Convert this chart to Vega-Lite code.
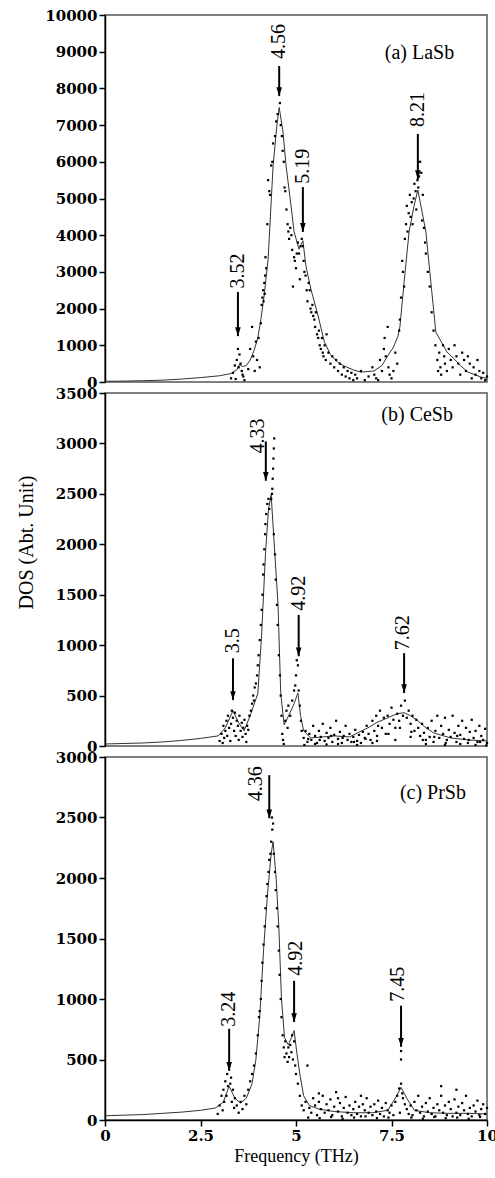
{
  "$schema": "https://vega.github.io/schema/vega-lite/v6.json",
  "background": "white",
  "padding": {"left": 15, "top": 7, "right": 4, "bottom": 4},
  "spacing": 11,
  "bounds": "flush",
  "datasets": {
    "lineA": [{"f":0,"dos":20},{"f":0.5,"dos":25},{"f":1.0,"dos":35},{"f":1.5,"dos":50},{"f":2.0,"dos":80},{"f":2.5,"dos":120},{"f":3.0,"dos":170},{"f":3.3,"dos":230},{"f":3.45,"dos":330},{"f":3.52,"dos":480},{"f":3.6,"dos":420},{"f":3.7,"dos":450},{"f":3.8,"dos":600},{"f":3.9,"dos":850},{"f":4.0,"dos":1200},{"f":4.08,"dos":1700},{"f":4.16,"dos":2300},{"f":4.27,"dos":3350},{"f":4.4,"dos":5890},{"f":4.5,"dos":7000},{"f":4.56,"dos":7480},{"f":4.66,"dos":6810},{"f":4.74,"dos":5890},{"f":4.87,"dos":4800},{"f":4.95,"dos":4090},{"f":5.08,"dos":3620},{"f":5.18,"dos":3850},{"f":5.26,"dos":3160},{"f":5.39,"dos":2530},{"f":5.58,"dos":1800},{"f":5.74,"dos":1100},{"f":5.9,"dos":750},{"f":6.1,"dos":530},{"f":6.26,"dos":436},{"f":6.5,"dos":330},{"f":6.7,"dos":270},{"f":7.04,"dos":300},{"f":7.25,"dos":450},{"f":7.4,"dos":710},{"f":7.55,"dos":950},{"f":7.67,"dos":1250},{"f":7.72,"dos":1500},{"f":7.83,"dos":2720},{"f":7.96,"dos":4090},{"f":8.09,"dos":4800},{"f":8.19,"dos":5230},{"f":8.27,"dos":4800},{"f":8.4,"dos":4090},{"f":8.53,"dos":2720},{"f":8.66,"dos":1360},{"f":8.8,"dos":1100},{"f":8.95,"dos":820},{"f":9.14,"dos":630},{"f":9.3,"dos":450},{"f":9.5,"dos":270},{"f":9.84,"dos":136},{"f":10,"dos":100}],
    "ptsA": [{"f":3.3,"dos":100},{"f":3.35,"dos":250},{"f":3.4,"dos":450},{"f":3.45,"dos":600},{"f":3.48,"dos":900},{"f":3.52,"dos":750},{"f":3.55,"dos":500},{"f":3.58,"dos":300},{"f":3.62,"dos":150},{"f":3.65,"dos":50},{"f":3.42,"dos":80},{"f":3.5,"dos":400},{"f":3.6,"dos":200},{"f":3.75,"dos":350},{"f":3.8,"dos":900},{"f":3.85,"dos":1500},{"f":3.88,"dos":700},{"f":3.92,"dos":300},{"f":3.95,"dos":1100},{"f":3.98,"dos":600},{"f":4.02,"dos":1200},{"f":4.05,"dos":400},{"f":4.08,"dos":1600},{"f":4.1,"dos":2100},{"f":4.12,"dos":2300},{"f":4.14,"dos":2500},{"f":4.15,"dos":2200},{"f":4.17,"dos":2700},{"f":4.18,"dos":2400},{"f":4.19,"dos":2900},{"f":4.2,"dos":3400},{"f":4.22,"dos":3100},{"f":4.25,"dos":4300},{"f":4.27,"dos":5500},{"f":4.3,"dos":5200},{"f":4.32,"dos":5100},{"f":4.35,"dos":5900},{"f":4.38,"dos":6000},{"f":4.4,"dos":6500},{"f":4.45,"dos":6700},{"f":4.48,"dos":7100},{"f":4.52,"dos":7300},{"f":4.55,"dos":8000},{"f":4.58,"dos":7600},{"f":4.6,"dos":7000},{"f":4.63,"dos":6700},{"f":4.65,"dos":6300},{"f":4.68,"dos":6000},{"f":4.7,"dos":5300},{"f":4.72,"dos":5200},{"f":4.75,"dos":4700},{"f":4.78,"dos":4300},{"f":4.8,"dos":4100},{"f":4.82,"dos":3900},{"f":4.85,"dos":4200},{"f":4.88,"dos":4000},{"f":4.9,"dos":3600},{"f":4.92,"dos":2600},{"f":4.95,"dos":3400},{"f":4.97,"dos":3300},{"f":5.0,"dos":3100},{"f":5.02,"dos":3500},{"f":5.05,"dos":3800},{"f":5.08,"dos":3500},{"f":5.1,"dos":2800},{"f":5.12,"dos":3700},{"f":5.15,"dos":3900},{"f":5.18,"dos":3700},{"f":5.2,"dos":3300},{"f":5.22,"dos":3000},{"f":5.25,"dos":2900},{"f":5.28,"dos":2500},{"f":5.3,"dos":2200},{"f":5.33,"dos":2700},{"f":5.36,"dos":2500},{"f":5.38,"dos":2000},{"f":5.4,"dos":1900},{"f":5.43,"dos":2100},{"f":5.45,"dos":1800},{"f":5.48,"dos":1700},{"f":5.5,"dos":1500},{"f":5.52,"dos":1900},{"f":5.55,"dos":1300},{"f":5.58,"dos":1200},{"f":5.6,"dos":1400},{"f":5.62,"dos":1000},{"f":5.65,"dos":900},{"f":5.68,"dos":1200},{"f":5.7,"dos":800},{"f":5.72,"dos":700},{"f":5.75,"dos":1000},{"f":5.78,"dos":600},{"f":5.8,"dos":1300},{"f":5.85,"dos":800},{"f":5.9,"dos":500},{"f":5.95,"dos":700},{"f":6.0,"dos":400},{"f":6.05,"dos":600},{"f":6.1,"dos":300},{"f":6.15,"dos":500},{"f":6.2,"dos":200},{"f":6.25,"dos":400},{"f":6.3,"dos":150},{"f":6.35,"dos":300},{"f":6.4,"dos":100},{"f":6.45,"dos":250},{"f":6.5,"dos":50},{"f":6.55,"dos":200},{"f":6.6,"dos":100},{"f":6.7,"dos":300},{"f":6.8,"dos":50},{"f":6.9,"dos":150},{"f":7.0,"dos":400},{"f":7.05,"dos":200},{"f":7.1,"dos":100},{"f":7.15,"dos":50},{"f":7.2,"dos":600},{"f":7.25,"dos":300},{"f":7.3,"dos":900},{"f":7.32,"dos":1200},{"f":7.35,"dos":700},{"f":7.4,"dos":1500},{"f":7.42,"dos":400},{"f":7.45,"dos":200},{"f":7.5,"dos":100},{"f":7.55,"dos":300},{"f":7.6,"dos":800},{"f":7.65,"dos":500},{"f":7.7,"dos":1400},{"f":7.72,"dos":1700},{"f":7.75,"dos":2300},{"f":7.78,"dos":3300},{"f":7.8,"dos":3000},{"f":7.83,"dos":2600},{"f":7.85,"dos":3900},{"f":7.88,"dos":4300},{"f":7.9,"dos":4800},{"f":7.92,"dos":4100},{"f":7.95,"dos":4600},{"f":7.98,"dos":5100},{"f":8.0,"dos":4500},{"f":8.03,"dos":4900},{"f":8.05,"dos":4300},{"f":8.08,"dos":5000},{"f":8.1,"dos":5400},{"f":8.13,"dos":5200},{"f":8.15,"dos":4700},{"f":8.18,"dos":5500},{"f":8.2,"dos":5300},{"f":8.22,"dos":5600},{"f":8.25,"dos":6000},{"f":8.28,"dos":5700},{"f":8.3,"dos":4400},{"f":8.32,"dos":5100},{"f":8.35,"dos":4200},{"f":8.38,"dos":3800},{"f":8.4,"dos":3500},{"f":8.45,"dos":3000},{"f":8.5,"dos":2600},{"f":8.55,"dos":1900},{"f":8.6,"dos":1400},{"f":8.65,"dos":1000},{"f":8.7,"dos":600},{"f":8.72,"dos":300},{"f":8.75,"dos":800},{"f":8.78,"dos":400},{"f":8.8,"dos":200},{"f":8.85,"dos":1000},{"f":8.88,"dos":700},{"f":8.9,"dos":500},{"f":8.95,"dos":300},{"f":9.0,"dos":900},{"f":9.05,"dos":600},{"f":9.1,"dos":400},{"f":9.15,"dos":1000},{"f":9.2,"dos":700},{"f":9.25,"dos":500},{"f":9.3,"dos":200},{"f":9.35,"dos":800},{"f":9.4,"dos":600},{"f":9.45,"dos":300},{"f":9.5,"dos":700},{"f":9.55,"dos":500},{"f":9.6,"dos":100},{"f":9.65,"dos":400},{"f":9.7,"dos":200},{"f":9.75,"dos":600},{"f":9.8,"dos":300},{"f":9.85,"dos":100},{"f":9.9,"dos":250},{"f":9.95,"dos":50},{"f":10.0,"dos":150}],
    "annA": [{"f":3.48,"dos":2450,"tip":1250,"tf":3.48,"tv":2550,"label":"3.52"},{"f":4.56,"dos":8610,"tip":7790,"tf":4.56,"tv":8800,"label":"4.56"},{"f":5.18,"dos":5310,"tip":4090,"tf":5.18,"tv":5400,"label":"5.19"},{"f":8.19,"dos":6760,"tip":5530,"tf":8.19,"tv":6950,"label":"8.21"}],
    "lineB": [{"f":0,"dos":20},{"f":0.5,"dos":25},{"f":1.0,"dos":30},{"f":1.5,"dos":40},{"f":2.0,"dos":55},{"f":2.5,"dos":75},{"f":2.96,"dos":100},{"f":3.15,"dos":180},{"f":3.35,"dos":350},{"f":3.5,"dos":230},{"f":3.64,"dos":150},{"f":3.8,"dos":300},{"f":4.0,"dos":520},{"f":4.1,"dos":1100},{"f":4.2,"dos":1900},{"f":4.28,"dos":2350},{"f":4.35,"dos":2490},{"f":4.42,"dos":2060},{"f":4.53,"dos":1400},{"f":4.6,"dos":520},{"f":4.69,"dos":210},{"f":4.82,"dos":310},{"f":4.95,"dos":420},{"f":5.05,"dos":525},{"f":5.12,"dos":300},{"f":5.2,"dos":150},{"f":5.39,"dos":80},{"f":5.7,"dos":90},{"f":6.0,"dos":100},{"f":6.4,"dos":90},{"f":6.88,"dos":180},{"f":7.1,"dos":230},{"f":7.4,"dos":280},{"f":7.65,"dos":320},{"f":7.83,"dos":330},{"f":8.0,"dos":300},{"f":8.19,"dos":250},{"f":8.4,"dos":180},{"f":8.6,"dos":130},{"f":9.05,"dos":80},{"f":9.5,"dos":60},{"f":10,"dos":50}],
    "ptsB": [{"f":3.0,"dos":50},{"f":3.05,"dos":120},{"f":3.08,"dos":30},{"f":3.1,"dos":200},{"f":3.12,"dos":80},{"f":3.15,"dos":150},{"f":3.18,"dos":250},{"f":3.2,"dos":100},{"f":3.22,"dos":300},{"f":3.25,"dos":180},{"f":3.28,"dos":50},{"f":3.3,"dos":220},{"f":3.32,"dos":350},{"f":3.35,"dos":280},{"f":3.38,"dos":150},{"f":3.4,"dos":330},{"f":3.42,"dos":100},{"f":3.45,"dos":250},{"f":3.48,"dos":200},{"f":3.5,"dos":60},{"f":3.52,"dos":300},{"f":3.55,"dos":150},{"f":3.58,"dos":230},{"f":3.6,"dos":90},{"f":3.62,"dos":180},{"f":3.65,"dos":260},{"f":3.68,"dos":120},{"f":3.7,"dos":40},{"f":3.72,"dos":200},{"f":3.75,"dos":160},{"f":3.78,"dos":300},{"f":3.82,"dos":350},{"f":3.85,"dos":420},{"f":3.88,"dos":500},{"f":3.9,"dos":450},{"f":3.92,"dos":580},{"f":3.95,"dos":620},{"f":3.98,"dos":700},{"f":4.0,"dos":800},{"f":4.02,"dos":900},{"f":4.05,"dos":1050},{"f":4.08,"dos":1200},{"f":4.1,"dos":1350},{"f":4.12,"dos":1500},{"f":4.14,"dos":1700},{"f":4.15,"dos":1800},{"f":4.17,"dos":1950},{"f":4.19,"dos":2100},{"f":4.2,"dos":2200},{"f":4.22,"dos":2300},{"f":4.25,"dos":2400},{"f":4.28,"dos":2450},{"f":4.3,"dos":2350},{"f":4.37,"dos":2500},{"f":4.38,"dos":2550},{"f":4.39,"dos":2650},{"f":4.4,"dos":2750},{"f":4.41,"dos":2850},{"f":4.42,"dos":2950},{"f":4.43,"dos":3050},{"f":4.35,"dos":2450},{"f":4.42,"dos":2100},{"f":4.45,"dos":1900},{"f":4.47,"dos":1650},{"f":4.5,"dos":1400},{"f":4.52,"dos":1200},{"f":4.55,"dos":900},{"f":4.58,"dos":700},{"f":4.6,"dos":500},{"f":4.62,"dos":300},{"f":4.64,"dos":120},{"f":4.66,"dos":60},{"f":4.68,"dos":20},{"f":4.72,"dos":250},{"f":4.75,"dos":350},{"f":4.78,"dos":180},{"f":4.8,"dos":400},{"f":4.85,"dos":300},{"f":4.9,"dos":450},{"f":4.95,"dos":550},{"f":4.98,"dos":600},{"f":5.0,"dos":700},{"f":5.02,"dos":850},{"f":5.05,"dos":800},{"f":5.07,"dos":550},{"f":5.1,"dos":400},{"f":5.13,"dos":250},{"f":5.15,"dos":150},{"f":5.2,"dos":80},{"f":5.25,"dos":150},{"f":5.3,"dos":40},{"f":5.35,"dos":120},{"f":5.4,"dos":60},{"f":5.45,"dos":200},{"f":5.5,"dos":100},{"f":5.55,"dos":30},{"f":5.6,"dos":150},{"f":5.65,"dos":90},{"f":5.7,"dos":220},{"f":5.75,"dos":50},{"f":5.8,"dos":130},{"f":5.85,"dos":80},{"f":5.9,"dos":180},{"f":5.95,"dos":40},{"f":6.0,"dos":110},{"f":6.05,"dos":250},{"f":6.1,"dos":70},{"f":6.15,"dos":140},{"f":6.2,"dos":30},{"f":6.25,"dos":100},{"f":6.3,"dos":200},{"f":6.35,"dos":60},{"f":6.4,"dos":120},{"f":6.45,"dos":40},{"f":6.5,"dos":90},{"f":6.55,"dos":160},{"f":6.6,"dos":50},{"f":6.65,"dos":110},{"f":6.7,"dos":30},{"f":6.75,"dos":140},{"f":6.8,"dos":80},{"f":6.85,"dos":200},{"f":6.9,"dos":120},{"f":6.95,"dos":60},{"f":7.0,"dos":250},{"f":7.05,"dos":150},{"f":7.1,"dos":300},{"f":7.12,"dos":100},{"f":7.15,"dos":200},{"f":7.2,"dos":350},{"f":7.25,"dos":180},{"f":7.3,"dos":280},{"f":7.35,"dos":120},{"f":7.4,"dos":300},{"f":7.45,"dos":220},{"f":7.5,"dos":380},{"f":7.55,"dos":260},{"f":7.6,"dos":180},{"f":7.65,"dos":320},{"f":7.7,"dos":250},{"f":7.75,"dos":400},{"f":7.8,"dos":300},{"f":7.85,"dos":450},{"f":7.9,"dos":280},{"f":7.95,"dos":350},{"f":8.0,"dos":220},{"f":8.05,"dos":300},{"f":8.1,"dos":150},{"f":8.15,"dos":260},{"f":8.2,"dos":180},{"f":8.25,"dos":100},{"f":8.3,"dos":220},{"f":8.35,"dos":130},{"f":8.4,"dos":60},{"f":8.45,"dos":180},{"f":8.5,"dos":90},{"f":8.55,"dos":250},{"f":8.6,"dos":40},{"f":8.65,"dos":150},{"f":8.7,"dos":300},{"f":8.75,"dos":80},{"f":8.8,"dos":200},{"f":8.85,"dos":120},{"f":8.9,"dos":280},{"f":8.95,"dos":60},{"f":9.0,"dos":160},{"f":9.05,"dos":90},{"f":9.1,"dos":300},{"f":9.15,"dos":130},{"f":9.2,"dos":40},{"f":9.25,"dos":200},{"f":9.3,"dos":110},{"f":9.35,"dos":250},{"f":9.4,"dos":70},{"f":9.45,"dos":180},{"f":9.5,"dos":30},{"f":9.55,"dos":140},{"f":9.6,"dos":260},{"f":9.65,"dos":80},{"f":9.7,"dos":150},{"f":9.75,"dos":40},{"f":9.8,"dos":200},{"f":9.85,"dos":100},{"f":9.9,"dos":60},{"f":9.95,"dos":170},{"f":10.0,"dos":30},{"f":5.22,"dos":10},{"f":5.5,"dos":20},{"f":5.8,"dos":15},{"f":6.1,"dos":20},{"f":6.6,"dos":10},{"f":7.0,"dos":30},{"f":7.6,"dos":60},{"f":8.0,"dos":90},{"f":8.4,"dos":20},{"f":8.9,"dos":10},{"f":9.3,"dos":20},{"f":9.7,"dos":10},{"f":9.98,"dos":5},{"f":5.32,"dos":70},{"f":5.62,"dos":60},{"f":5.92,"dos":100},{"f":6.22,"dos":80},{"f":6.52,"dos":40},{"f":6.82,"dos":70},{"f":7.12,"dos":50},{"f":7.42,"dos":120},{"f":7.72,"dos":180},{"f":8.02,"dos":140},{"f":8.32,"dos":60},{"f":8.62,"dos":90},{"f":8.92,"dos":30},{"f":9.22,"dos":100},{"f":9.52,"dos":60},{"f":9.82,"dos":40}],
    "annB": [{"f":3.35,"dos":870,"tip":455,"tf":3.35,"tv":920,"label":"3.5"},{"f":4.21,"dos":3020,"tip":2630,"tf":4.0,"tv":2900,"label":"4.33"},{"f":5.07,"dos":1300,"tip":890,"tf":5.07,"tv":1340,"label":"4.92"},{"f":7.83,"dos":920,"tip":525,"tf":7.8,"tv":950,"label":"7.62"}],
    "lineC": [{"f":0,"dos":35},{"f":0.5,"dos":40},{"f":1.0,"dos":45},{"f":1.5,"dos":55},{"f":2.0,"dos":65},{"f":2.5,"dos":80},{"f":2.9,"dos":100},{"f":3.1,"dos":150},{"f":3.25,"dos":280},{"f":3.4,"dos":180},{"f":3.55,"dos":140},{"f":3.7,"dos":180},{"f":3.85,"dos":300},{"f":3.95,"dos":500},{"f":4.05,"dos":850},{"f":4.15,"dos":1400},{"f":4.25,"dos":1850},{"f":4.35,"dos":2200},{"f":4.4,"dos":2300},{"f":4.48,"dos":2000},{"f":4.55,"dos":1600},{"f":4.62,"dos":1000},{"f":4.7,"dos":680},{"f":4.8,"dos":620},{"f":4.88,"dos":680},{"f":4.95,"dos":740},{"f":5.02,"dos":560},{"f":5.1,"dos":380},{"f":5.2,"dos":200},{"f":5.35,"dos":120},{"f":5.6,"dos":90},{"f":6.0,"dos":70},{"f":6.5,"dos":60},{"f":7.0,"dos":60},{"f":7.4,"dos":80},{"f":7.6,"dos":180},{"f":7.75,"dos":270},{"f":7.9,"dos":180},{"f":8.1,"dos":80},{"f":8.5,"dos":60},{"f":9.0,"dos":55},{"f":9.5,"dos":55},{"f":10,"dos":50}],
    "ptsC": [{"f":2.95,"dos":50},{"f":3.0,"dos":120},{"f":3.05,"dos":200},{"f":3.08,"dos":80},{"f":3.1,"dos":250},{"f":3.12,"dos":150},{"f":3.15,"dos":320},{"f":3.18,"dos":200},{"f":3.2,"dos":380},{"f":3.22,"dos":280},{"f":3.25,"dos":450},{"f":3.28,"dos":300},{"f":3.3,"dos":350},{"f":3.32,"dos":150},{"f":3.35,"dos":250},{"f":3.38,"dos":100},{"f":3.4,"dos":180},{"f":3.45,"dos":120},{"f":3.5,"dos":60},{"f":3.55,"dos":150},{"f":3.6,"dos":90},{"f":3.65,"dos":200},{"f":3.7,"dos":130},{"f":3.75,"dos":250},{"f":3.8,"dos":320},{"f":3.85,"dos":380},{"f":3.9,"dos":450},{"f":3.95,"dos":550},{"f":4.0,"dos":700},{"f":4.03,"dos":850},{"f":4.05,"dos":900},{"f":4.08,"dos":1000},{"f":4.1,"dos":1150},{"f":4.12,"dos":1300},{"f":4.15,"dos":1450},{"f":4.18,"dos":1600},{"f":4.2,"dos":1750},{"f":4.23,"dos":1850},{"f":4.25,"dos":1950},{"f":4.28,"dos":2050},{"f":4.3,"dos":2150},{"f":4.33,"dos":2200},{"f":4.35,"dos":2300},{"f":4.38,"dos":2400},{"f":4.4,"dos":2450},{"f":4.37,"dos":2500},{"f":4.42,"dos":2200},{"f":4.45,"dos":2050},{"f":4.47,"dos":1900},{"f":4.5,"dos":1750},{"f":4.52,"dos":1600},{"f":4.55,"dos":1400},{"f":4.57,"dos":1200},{"f":4.6,"dos":1000},{"f":4.62,"dos":850},{"f":4.65,"dos":700},{"f":4.68,"dos":600},{"f":4.7,"dos":520},{"f":4.72,"dos":650},{"f":4.75,"dos":550},{"f":4.78,"dos":480},{"f":4.8,"dos":600},{"f":4.82,"dos":520},{"f":4.85,"dos":620},{"f":4.88,"dos":560},{"f":4.9,"dos":700},{"f":4.92,"dos":500},{"f":4.95,"dos":650},{"f":4.98,"dos":450},{"f":5.0,"dos":380},{"f":5.05,"dos":300},{"f":5.1,"dos":200},{"f":5.15,"dos":120},{"f":5.2,"dos":80},{"f":5.3,"dos":450},{"f":5.25,"dos":150},{"f":5.35,"dos":100},{"f":5.4,"dos":60},{"f":5.45,"dos":180},{"f":5.5,"dos":120},{"f":5.55,"dos":40},{"f":5.6,"dos":150},{"f":5.65,"dos":90},{"f":5.7,"dos":200},{"f":5.75,"dos":60},{"f":5.8,"dos":130},{"f":5.85,"dos":80},{"f":5.9,"dos":170},{"f":5.95,"dos":40},{"f":6.0,"dos":110},{"f":6.05,"dos":230},{"f":6.1,"dos":70},{"f":6.15,"dos":140},{"f":6.2,"dos":30},{"f":6.25,"dos":100},{"f":6.3,"dos":190},{"f":6.35,"dos":60},{"f":6.4,"dos":120},{"f":6.45,"dos":40},{"f":6.5,"dos":90},{"f":6.55,"dos":150},{"f":6.6,"dos":50},{"f":6.65,"dos":110},{"f":6.7,"dos":30},{"f":6.75,"dos":130},{"f":6.8,"dos":80},{"f":6.85,"dos":180},{"f":6.9,"dos":60},{"f":6.95,"dos":110},{"f":7.0,"dos":40},{"f":7.05,"dos":130},{"f":7.1,"dos":70},{"f":7.15,"dos":160},{"f":7.2,"dos":50},{"f":7.25,"dos":100},{"f":7.3,"dos":30},{"f":7.35,"dos":140},{"f":7.4,"dos":80},{"f":7.45,"dos":60},{"f":7.5,"dos":120},{"f":7.55,"dos":40},{"f":7.6,"dos":150},{"f":7.65,"dos":200},{"f":7.7,"dos":260},{"f":7.75,"dos":300},{"f":7.78,"dos":220},{"f":7.8,"dos":180},{"f":7.85,"dos":130},{"f":7.9,"dos":90},{"f":7.95,"dos":50},{"f":8.0,"dos":120},{"f":8.05,"dos":40},{"f":8.1,"dos":150},{"f":8.15,"dos":80},{"f":8.2,"dos":200},{"f":8.25,"dos":60},{"f":8.3,"dos":110},{"f":8.35,"dos":30},{"f":8.4,"dos":140},{"f":8.45,"dos":70},{"f":8.5,"dos":180},{"f":8.55,"dos":50},{"f":8.6,"dos":100},{"f":8.65,"dos":30},{"f":8.7,"dos":130},{"f":8.75,"dos":80},{"f":8.8,"dos":200},{"f":8.85,"dos":60},{"f":8.9,"dos":120},{"f":8.95,"dos":40},{"f":9.0,"dos":150},{"f":9.05,"dos":90},{"f":9.1,"dos":30},{"f":9.15,"dos":170},{"f":9.2,"dos":60},{"f":9.25,"dos":110},{"f":9.3,"dos":40},{"f":9.35,"dos":140},{"f":9.4,"dos":80},{"f":9.45,"dos":200},{"f":9.5,"dos":50},{"f":9.55,"dos":100},{"f":9.6,"dos":30},{"f":9.65,"dos":120},{"f":9.7,"dos":70},{"f":9.75,"dos":160},{"f":9.8,"dos":40},{"f":9.85,"dos":90},{"f":9.9,"dos":130},{"f":9.95,"dos":50},{"f":10.0,"dos":100},{"f":7.75,"dos":500},{"f":7.75,"dos":570},{"f":5.6,"dos":220},{"f":6.1,"dos":180},{"f":6.7,"dos":200},{"f":8.8,"dos":280},{"f":9.2,"dos":250},{"f":5.32,"dos":20},{"f":5.62,"dos":15},{"f":5.92,"dos":25},{"f":6.22,"dos":10},{"f":6.52,"dos":20},{"f":6.82,"dos":30},{"f":7.12,"dos":15},{"f":7.42,"dos":20},{"f":7.72,"dos":60},{"f":8.02,"dos":20},{"f":8.32,"dos":10},{"f":8.62,"dos":25},{"f":8.92,"dos":15},{"f":9.22,"dos":20},{"f":9.52,"dos":10},{"f":9.82,"dos":25}],
    "annC": [{"f":3.25,"dos":754,"tip":406,"tf":3.25,"tv":770,"label":"3.24"},{"f":4.3,"dos":2850,"tip":2494,"tf":3.95,"tv":2635,"label":"4.36"},{"f":4.95,"dos":1150,"tip":810,"tf":5.0,"tv":1193,"label":"4.92"},{"f":7.75,"dos":945,"tip":605,"tf":7.67,"tv":978,"label":"7.45"}]
  },
  "vconcat": [
    {
      "width": 382, "height": 367,
      "layer": [
        {"data": {"name": "lineA"}, "mark": {"type": "line", "color": "#333", "strokeWidth": 1},
         "encoding": {"x": {"field": "f", "type": "quantitative", "scale": {"domain": [0, 10], "nice": false, "zero": false}, "axis": null},
                      "y": {"field": "dos", "type": "quantitative", "scale": {"domain": [0, 10000], "nice": false}, "axis": {"title": null, "values": [0,1000,2000,3000,4000,5000,6000,7000,8000,9000,10000], "tickCount": 12, "labelOverlap": false, "format": "d"}}}},
        {"data": {"name": "ptsA"}, "mark": {"type": "point", "shape": "square", "size": 5, "filled": true, "color": "black", "opacity": 1},
         "encoding": {"x": {"field": "f", "type": "quantitative"}, "y": {"field": "dos", "type": "quantitative"}}},
        {"data": {"name": "annA"}, "mark": {"type": "rule", "color": "black", "strokeWidth": 2},
         "encoding": {"x": {"field": "f", "type": "quantitative"}, "y": {"field": "dos", "type": "quantitative"}, "y2": {"field": "tip"}}},
        {"data": {"name": "annA"}, "mark": {"type": "point", "shape": "M-0.7,-2.2L0.7,-2.2L0,0Z", "size": 64, "filled": true, "color": "black", "opacity": 1},
         "encoding": {"x": {"field": "f", "type": "quantitative"}, "y": {"field": "tip", "type": "quantitative"}}},
        {"data": {"name": "annA"}, "mark": {"type": "text", "angle": 270, "align": "left", "baseline": "middle", "font": "Liberation Serif", "fontSize": 20, "color": "black"},
         "encoding": {"x": {"field": "tf", "type": "quantitative"}, "y": {"field": "tv", "type": "quantitative"}, "text": {"field": "label"}}},
        {"data": {"values": [{"f": 9.14, "dos": 8960, "label": "(a) LaSb"}]}, "mark": {"type": "text", "align": "right", "baseline": "middle", "font": "Liberation Serif", "fontSize": 20, "color": "black"},
         "encoding": {"x": {"field": "f", "type": "quantitative"}, "y": {"field": "dos", "type": "quantitative"}, "text": {"field": "label"}}}
      ]
    },
    {
      "width": 382, "height": 353,
      "layer": [
        {"data": {"name": "lineB"}, "mark": {"type": "line", "color": "#333", "strokeWidth": 1},
         "encoding": {"x": {"field": "f", "type": "quantitative", "scale": {"domain": [0, 10], "nice": false, "zero": false}, "axis": null},
                      "y": {"field": "dos", "type": "quantitative", "scale": {"domain": [0, 3500], "nice": false}, "axis": {"title": "DOS (Abt. Unit)", "values": [0,500,1000,1500,2000,2500,3000,3500], "tickCount": 10, "labelOverlap": false, "format": "d", "titleX": -79, "titleY": 149, "titleBaseline": "middle", "titleAngle": 270}}}},
        {"data": {"name": "ptsB"}, "mark": {"type": "point", "shape": "square", "size": 5, "filled": true, "color": "black", "opacity": 1},
         "encoding": {"x": {"field": "f", "type": "quantitative"}, "y": {"field": "dos", "type": "quantitative"}}},
        {"data": {"name": "annB"}, "mark": {"type": "rule", "color": "black", "strokeWidth": 2},
         "encoding": {"x": {"field": "f", "type": "quantitative"}, "y": {"field": "dos", "type": "quantitative"}, "y2": {"field": "tip"}}},
        {"data": {"name": "annB"}, "mark": {"type": "point", "shape": "M-0.7,-2.2L0.7,-2.2L0,0Z", "size": 64, "filled": true, "color": "black", "opacity": 1},
         "encoding": {"x": {"field": "f", "type": "quantitative"}, "y": {"field": "tip", "type": "quantitative"}}},
        {"data": {"name": "annB"}, "mark": {"type": "text", "angle": 270, "align": "left", "baseline": "middle", "font": "Liberation Serif", "fontSize": 20, "color": "black"},
         "encoding": {"x": {"field": "tf", "type": "quantitative"}, "y": {"field": "tv", "type": "quantitative"}, "text": {"field": "label"}}},
        {"data": {"values": [{"f": 9.11, "dos": 3280, "label": "(b) CeSb"}]}, "mark": {"type": "text", "align": "right", "baseline": "middle", "font": "Liberation Serif", "fontSize": 20, "color": "black"},
         "encoding": {"x": {"field": "f", "type": "quantitative"}, "y": {"field": "dos", "type": "quantitative"}, "text": {"field": "label"}}}
      ]
    },
    {
      "width": 382, "height": 363,
      "layer": [
        {"data": {"name": "lineC"}, "mark": {"type": "line", "color": "#333", "strokeWidth": 1},
         "encoding": {"x": {"field": "f", "type": "quantitative", "scale": {"domain": [0, 10], "nice": false, "zero": false}, "axis": {"title": "Frequency (THz)", "values": [0, 2.5, 5, 7.5, 10], "tickCount": 6, "labelExpr": "'' + datum.value", "labelFlush": false, "labelOverlap": false, "titleFontSize": 18, "titlePadding": 4}},
                      "y": {"field": "dos", "type": "quantitative", "scale": {"domain": [0, 3000], "nice": false}, "axis": {"title": null, "values": [0,500,1000,1500,2000,2500,3000], "tickCount": 8, "labelOverlap": false, "format": "d"}}}},
        {"data": {"name": "ptsC"}, "mark": {"type": "point", "shape": "square", "size": 5, "filled": true, "color": "black", "opacity": 1},
         "encoding": {"x": {"field": "f", "type": "quantitative"}, "y": {"field": "dos", "type": "quantitative"}}},
        {"data": {"name": "annC"}, "mark": {"type": "rule", "color": "black", "strokeWidth": 2},
         "encoding": {"x": {"field": "f", "type": "quantitative"}, "y": {"field": "dos", "type": "quantitative"}, "y2": {"field": "tip"}}},
        {"data": {"name": "annC"}, "mark": {"type": "point", "shape": "M-0.7,-2.2L0.7,-2.2L0,0Z", "size": 64, "filled": true, "color": "black", "opacity": 1},
         "encoding": {"x": {"field": "f", "type": "quantitative"}, "y": {"field": "tip", "type": "quantitative"}}},
        {"data": {"name": "annC"}, "mark": {"type": "text", "angle": 270, "align": "left", "baseline": "middle", "font": "Liberation Serif", "fontSize": 20, "color": "black"},
         "encoding": {"x": {"field": "tf", "type": "quantitative"}, "y": {"field": "tv", "type": "quantitative"}, "text": {"field": "label"}}},
        {"data": {"values": [{"f": 9.45, "dos": 2700, "label": "(c) PrSb"}]}, "mark": {"type": "text", "align": "right", "baseline": "middle", "font": "Liberation Serif", "fontSize": 20, "color": "black"},
         "encoding": {"x": {"field": "f", "type": "quantitative"}, "y": {"field": "dos", "type": "quantitative"}, "text": {"field": "label"}}}
      ]
    }
  ],
  "config": {
    "view": {"stroke": "#555", "strokeWidth": 1.5},
    "axis": {"labelFont": "DejaVu Serif", "labelFontWeight": "bold", "labelFontSize": 15, "labelColor": "black", "tickColor": "black", "tickWidth": 1.5, "tickSize": 6, "domainColor": "black", "domainWidth": 1.5, "grid": false, "labelPadding": 2, "labelOverlap": false, "titleFont": "Liberation Serif", "titleFontWeight": "normal", "titleFontSize": 20, "titleColor": "black"}
  }
}
